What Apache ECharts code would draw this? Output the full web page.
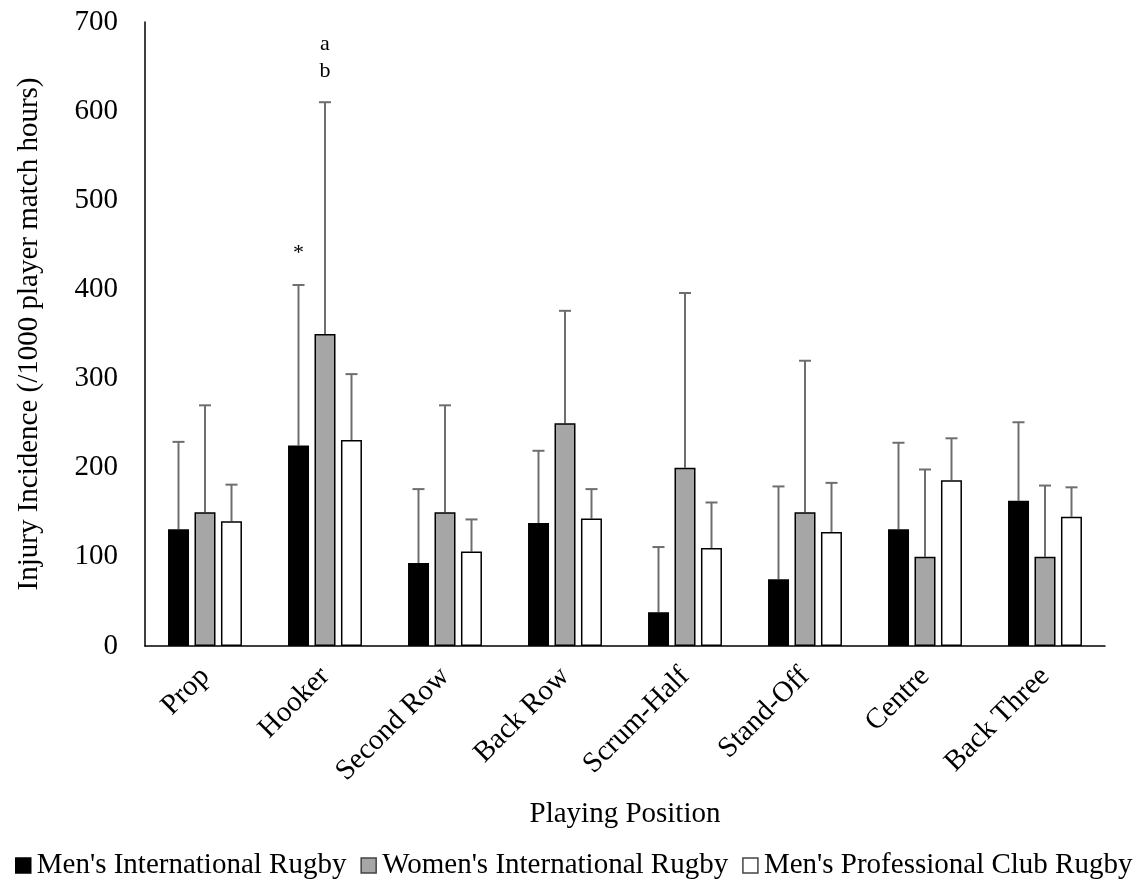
<!DOCTYPE html>
<html>
<head>
<meta charset="utf-8">
<title>Injury Incidence by Playing Position</title>
<script src="https://cdn.jsdelivr.net/npm/echarts@6/dist/echarts.min.js"></script>
<style>
  html, body { margin: 0; padding: 0; background: #fff; }
  #chart { width: 1146px; height: 879px; }
</style>
</head>
<body>
<div id="chart"></div>
<script>
// Playing positions on the category axis
const positions = ['Prop', 'Hooker', 'Second Row', 'Back Row', 'Scrum-Half', 'Stand-Off', 'Centre', 'Back Three'];

// Mean injury incidence (/1000 player match hours)
const mensIntl   = [131, 225,  93, 138,  38,  75, 131, 163];
const womensIntl = [150, 350, 150, 250, 200, 150, 100, 100];
const mensClub   = [140, 231, 106, 143, 110, 128, 186, 145];

// Upper end of each error bar
const mensIntlUpper   = [229, 405, 176, 219, 111, 179, 228, 251];
const womensIntlUpper = [270, 610, 270, 376, 396, 320, 198, 180];
const mensClubUpper   = [181, 305, 142, 176, 161, 183, 233, 178];

const seriesNames = ["Men's International Rugby", "Women's International Rugby", "Men's Professional Club Rugby"];

// Significance markers: [position, series index, text lines]
const markers = [
  ['Hooker', 0, ['*']],
  ['Hooker', 1, ['a', 'b']]
];

const yTicks = { min: 0, max: 700, interval: 100 };

const FONT = '"Liberation Serif", "Times New Roman", serif';
const FS = 29;
const fills = ['#000000', '#a6a6a6', '#ffffff'];
const offsets = [-26.5, 0, 26.5];

const means = [mensIntl, womensIntl, mensClub];
const uppers = [mensIntlUpper, womensIntlUpper, mensClubUpper];

const barSeries = means.map((vals, i) => ({
  name: seriesNames[i],
  type: 'bar',
  data: vals,
  barWidth: 21,
  barGap: '26%',
  itemStyle: { color: fills[i], borderColor: '#000', borderWidth: 1.5 },
  z: 2
}));

const errSeries = means.map((vals, i) => ({
  type: 'custom',
  name: seriesNames[i] + ' error',
  data: vals.map((v, k) => [k, v, uppers[i][k]]),
  z: 1,
  silent: true,
  renderItem: function (params, api) {
    const base = api.coord([api.value(0), api.value(1)]);
    const top = api.coord([api.value(0), api.value(2)]);
    const x = base[0] + offsets[i];
    const style = { stroke: '#6e6e6e', lineWidth: 2 };
    return {
      type: 'group',
      children: [
        { type: 'line', shape: { x1: x, y1: base[1], x2: x, y2: top[1] }, style },
        { type: 'line', shape: { x1: x - 6, y1: top[1], x2: x + 6, y2: top[1] }, style }
      ]
    };
  }
}));

const markerSeries = {
  type: 'custom',
  name: 'markers',
  silent: true,
  data: markers.map(m => {
    const k = positions.indexOf(m[0]);
    return [k, uppers[m[1]][k], m[1]];
  }),
  renderItem: function (params, api) {
    const p = api.coord([api.value(0), api.value(1)]);
    const si = api.value(2);
    const txt = markers[params.dataIndex][2].join('\n');
    return {
      type: 'text',
      x: p[0] + offsets[si],
      y: p[1] - 18,
      style: {
        text: txt,
        font: '22px ' + FONT,
        fill: '#000',
        align: 'center',
        verticalAlign: 'bottom',
        lineHeight: 27
      }
    };
  }
};

const chart = echarts.init(document.getElementById('chart'), null, { renderer: 'canvas' });
chart.setOption({
  backgroundColor: '#fff',
  animation: false,
  grid: { left: 145, right: 41, top: 22, bottom: 233, containLabel: false },
  legend: {
    data: seriesNames.map((n, i) => ({
      name: n,
      itemStyle: { color: fills[i], borderColor: i === 0 ? '#000' : '#444', borderWidth: 1.5 }
    })),
    left: 10,
    top: 846,
    icon: 'rect',
    itemWidth: 15,
    itemHeight: 15,
    itemGap: 14,
    textStyle: { fontFamily: FONT, fontSize: FS, color: '#000', padding: [0, 0, 0, 1] },
    selectedMode: false
  },
  xAxis: {
    type: 'category',
    data: positions,
    name: 'Playing Position',
    nameLocation: 'middle',
    nameGap: 154,
    nameTextStyle: { fontFamily: FONT, fontSize: FS, color: '#000' },
    axisLine: { lineStyle: { color: '#000', width: 1.5 } },
    axisTick: { show: false },
    axisLabel: { rotate: 45, fontFamily: FONT, fontSize: FS, color: '#000', margin: 26, interval: 0 }
  },
  yAxis: {
    type: 'value',
    min: yTicks.min,
    max: yTicks.max,
    interval: yTicks.interval,
    name: 'Injury Incidence (/1000 player match hours)',
    nameLocation: 'middle',
    nameGap: 101,
    nameTextStyle: { fontFamily: FONT, fontSize: FS, color: '#000' },
    axisLine: { show: true, lineStyle: { color: '#000', width: 1.5 } },
    axisTick: { show: false },
    splitLine: { show: false },
    axisLabel: { fontFamily: FONT, fontSize: FS, color: '#000', margin: 27 }
  },
  series: [...errSeries, ...barSeries, markerSeries]
});
</script>
</body>
</html>
